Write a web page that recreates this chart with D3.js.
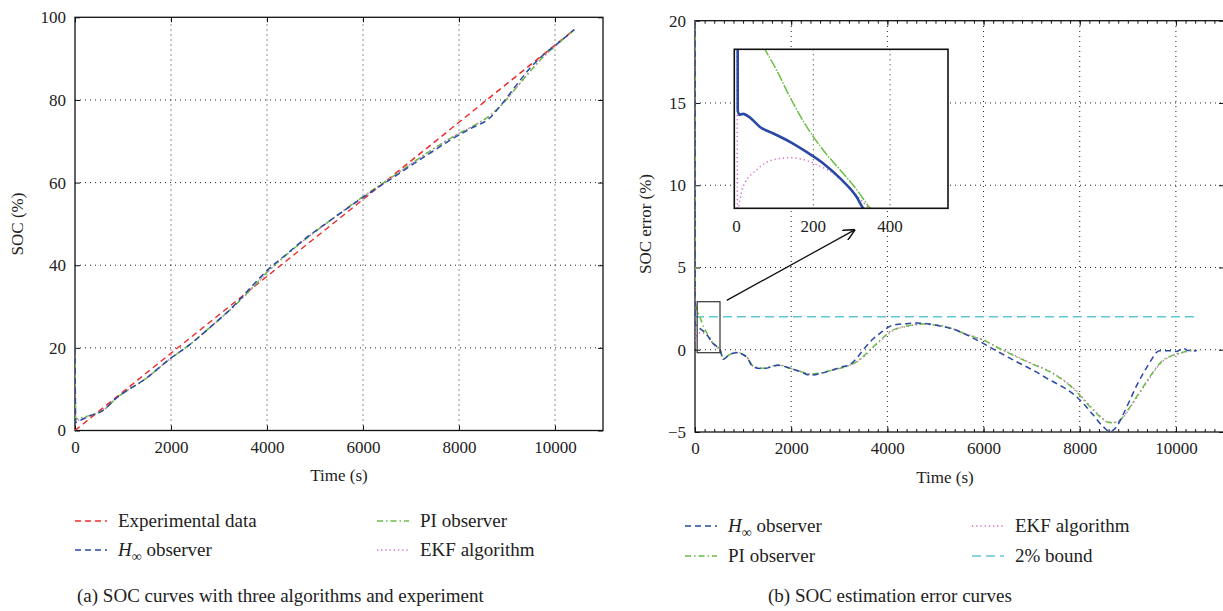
<!DOCTYPE html>
<html>
<head>
<meta charset="utf-8">
<script src="https://cdn.jsdelivr.net/npm/d3@7/dist/d3.min.js"></script>
<style>
body { margin: 0; background: #fff; }
</style>
</head>
<body>
<svg id="chart" width="1223" height="611"></svg>
<script>
// ---- data ----
var timeTicks = [0, 2000, 4000, 6000, 8000, 10000];
var socTicks = [0, 20, 40, 60, 80, 100];
var errTicks = [-5, 0, 5, 10, 15, 20];
var insetTicks = [0, 200, 400];

// (a) SOC (%) against time (s)
var socExperimental = [[0, 0], [2000, 18.7], [4000, 37.3], [6000, 55.9], [8000, 74.6], [10400, 97]];
var socHinf = [[0, 20], [15, 1.9], [100, 2.4], [300, 3.5], [589, 4.9], [866, 7.9], [1075, 9.6], [1420, 12.1],
  [1975, 17.3], [2391, 20.8], [2807, 24.9], [3361, 30.8], [3700, 35.1], [4054, 39.3], [4400, 42.6], [4747, 46.0],
  [5301, 50.7], [6000, 56.4], [6688, 61.7], [7380, 67.0], [7935, 71.1], [8281, 73.3], [8628, 75.5], [8905, 79.2],
  [9182, 83.4], [9459, 87.4], [9736, 90.7], [10014, 93.3], [10400, 97]];
var socPI = [[0, 20], [15, 2.8], [100, 3.0], [300, 3.6], [589, 4.9], [866, 7.9], [1075, 9.6], [1420, 12.1],
  [1975, 17.3], [2391, 20.8], [2807, 24.9], [3361, 30.6], [3707, 34.7], [4054, 38.9], [4400, 42.5], [4747, 45.8],
  [5301, 50.7], [6000, 56.6], [6688, 62.0], [7380, 67.5], [7935, 71.5], [8281, 73.6], [8628, 76.1], [8905, 79.0],
  [9182, 82.8], [9459, 86.6], [9736, 90.2], [10014, 93.1], [10400, 97]];
var socEKF = [[0, 20], [15, 2.3], [100, 2.7], [300, 3.5], [589, 4.9], [866, 7.9], [1075, 9.6], [1420, 12.1],
  [1975, 17.3], [2391, 20.8], [2807, 24.9], [3361, 30.6], [3707, 34.6], [4054, 38.8], [4400, 42.4], [4747, 45.8],
  [5301, 50.7], [6000, 56.6], [6688, 62.0], [7380, 67.5], [7935, 71.5], [8281, 73.6], [8628, 76.1], [8905, 79.0],
  [9182, 82.8], [9459, 86.6], [9736, 90.2], [10014, 93.1], [10400, 97]];

// (b) SOC error (%) against time (s)
var errHinf = [[0, 20], [3, 1.55], [7, 1.50], [17, 1.51], [35, 1.47], [61, 1.37], [96, 1.30], [139, 1.21], [183, 1.10],
  [226, 0.98], [270, 0.82], [313, 0.62], [330, 0.5], [400, 0.33], [470, 0.15], [520, 0.0], [589, -0.58], [700, -0.33],
  [866, -0.18], [1000, -0.3], [1075, -0.45], [1213, -1.05], [1420, -1.15], [1732, -0.95], [1975, -1.13], [2200, -1.35],
  [2391, -1.54], [2600, -1.45], [2807, -1.28], [3050, -1.05], [3222, -0.9], [3361, -0.52], [3499, 0.0], [3700, 0.65],
  [3846, 1.0], [4123, 1.5], [4400, 1.58], [4609, 1.62], [4886, 1.56], [5162, 1.40], [5440, 1.18], [5720, 0.8],
  [5994, 0.39], [6300, -0.12], [6688, -0.73], [7000, -1.2], [7380, -1.84], [7700, -2.35], [7935, -2.86], [8100, -3.35],
  [8281, -3.97], [8490, -4.68], [8628, -4.98], [8767, -4.68], [8900, -3.95], [9044, -3.06], [9180, -2.2], [9320, -1.44],
  [9440, -0.85], [9528, -0.43], [9600, -0.15], [9667, -0.06], [9850, -0.06], [10014, -0.1], [10152, 0.08],
  [10250, -0.04], [10430, -0.06]];
var errPI = [[0, 20], [5, 2.9], [30, 2.55], [74, 2.2], [104, 1.98], [139, 1.69], [183, 1.37], [226, 1.12], [270, 0.91],
  [313, 0.70], [348, 0.5], [420, 0.25], [520, 0.0], [589, -0.58], [700, -0.33], [866, -0.15], [1000, -0.28],
  [1075, -0.43], [1213, -1.0], [1420, -1.12], [1732, -0.92], [1975, -1.12], [2200, -1.32], [2391, -1.47], [2600, -1.42],
  [2807, -1.27], [3050, -1.1], [3222, -0.93], [3361, -0.73], [3500, -0.4], [3707, 0.18], [3900, 0.7], [4054, 1.1],
  [4230, 1.32], [4400, 1.44], [4600, 1.53], [4747, 1.56], [4950, 1.52], [5162, 1.44], [5400, 1.22], [5578, 1.0],
  [5800, 0.78], [5994, 0.59], [6300, 0.12], [6688, -0.43], [7000, -0.85], [7380, -1.34], [7700, -1.95], [7935, -2.55],
  [8100, -3.1], [8281, -3.67], [8450, -4.15], [8559, -4.38], [8697, -4.44], [8800, -4.35], [8905, -4.07], [9040, -3.5],
  [9182, -2.86], [9320, -2.25], [9459, -1.64], [9600, -1.05], [9736, -0.63], [9880, -0.4], [10014, -0.26],
  [10150, -0.15], [10291, -0.06], [10430, -0.04]];
var errEKF = [[0, 20], [2, 0.45], [8, 0.58], [17, 0.73], [52, 0.91], [96, 1.02], [139, 1.04], [183, 1.01], [217, 0.95],
  [250, 0.88], [280, 0.78], [313, 0.64], [340, 0.52], [420, 0.22], [520, -0.02], [589, -0.6], [700, -0.35],
  [866, -0.17], [1000, -0.3], [1075, -0.44], [1213, -1.02], [1420, -1.12], [1732, -0.93], [1975, -1.12], [2200, -1.33],
  [2391, -1.48], [2600, -1.43], [2807, -1.28], [3050, -1.1], [3222, -0.94], [3361, -0.75], [3500, -0.44], [3707, 0.14],
  [3900, 0.66], [4054, 1.06], [4230, 1.3], [4400, 1.42], [4600, 1.52], [4747, 1.55], [4950, 1.52], [5162, 1.45],
  [5400, 1.24], [5578, 1.03], [5800, 0.8], [5994, 0.6], [6300, 0.14], [6688, -0.4], [7000, -0.83], [7380, -1.32],
  [7700, -1.92], [7935, -2.5], [8100, -3.05], [8281, -3.62], [8450, -4.1], [8559, -4.36], [8697, -4.42], [8800, -4.36],
  [8905, -4.1], [9040, -3.55], [9182, -2.92], [9320, -2.3], [9459, -1.7], [9600, -1.1], [9736, -0.68], [9880, -0.42],
  [10014, -0.27], [10150, -0.16], [10291, -0.07], [10430, -0.05]];
var errBound = [[0, 2], [10430, 2]];

var colors = { exp: "#ee2b2b", hinf: "#2a48a6", pi: "#6abf45", ekf: "#d25fc8", bound: "#62c6d6" };
var dashes = { exp: "6,4", hinf: "6,4", pi: "6,3,1.5,3", ekf: "1.2,3", bound: "9,5" };
var serif = "'Liberation Serif', 'DejaVu Serif', serif";

var svg = d3.select("#chart");
svg.append("rect").attr("width", 1223).attr("height", 611).attr("fill", "#fff");

function frame(id, x, y, xt, yt, minorX) {
  var g = svg.append("g");
  var x0 = x.range()[0], x1 = x.range()[1], y0 = y.range()[0], y1 = y.range()[1];
  svg.append("clipPath").attr("id", id).append("rect")
    .attr("x", x0).attr("y", y1).attr("width", x1 - x0).attr("height", y0 - y1);

  // dotted grid
  g.selectAll(".gx").data(xt.filter(function(d) { return d > x.domain()[0]; })).enter().append("line")
    .attr("x1", function(d) { return x(d); }).attr("x2", function(d) { return x(d); })
    .attr("y1", y0).attr("y2", y1)
    .attr("stroke", "#222").attr("stroke-width", 1).attr("stroke-dasharray", "1,4");
  g.selectAll(".gy").data(yt.filter(function(d) { return d > y.domain()[0] && d < y.domain()[1]; })).enter().append("line")
    .attr("x1", x0).attr("x2", x1)
    .attr("y1", function(d) { return y(d); }).attr("y2", function(d) { return y(d); })
    .attr("stroke", "#222").attr("stroke-width", 1).attr("stroke-dasharray", "1,4");

  if (minorX) {
    var minor = d3.range(x.domain()[0], x.domain()[1] + 1, 200);
    g.append("g").attr("transform", "translate(0," + y0 + ")")
      .call(d3.axisBottom(x).tickValues(minor).tickSize(-3).tickFormat(""))
      .call(function(s) { s.select(".domain").remove(); s.selectAll("line").attr("stroke", "#555"); });
    g.append("g").attr("transform", "translate(0," + y1 + ")")
      .call(d3.axisTop(x).tickValues(minor).tickSize(-3).tickFormat(""))
      .call(function(s) { s.select(".domain").remove(); s.selectAll("line").attr("stroke", "#555"); });
  }

  var ax = g.append("g").attr("transform", "translate(0," + y0 + ")")
    .call(d3.axisBottom(x).tickValues(xt).tickSize(-5).tickPadding(10).tickFormat(d3.format("d")));
  g.append("g").attr("transform", "translate(" + x0 + ",0)")
    .call(d3.axisLeft(y).tickValues(yt).tickSize(-5).tickPadding(9).tickFormat(function(d) { return d < 0 ? "\u2212" + (-d) : d; }));
  g.append("g").attr("transform", "translate(0," + y1 + ")")
    .call(d3.axisTop(x).tickValues(xt).tickSize(-5).tickFormat(""));
  g.append("g").attr("transform", "translate(" + x1 + ",0)")
    .call(d3.axisRight(y).tickValues(yt).tickSize(-5).tickFormat(""));
  g.selectAll(".domain").remove();
  g.selectAll(".tick line").attr("stroke", "#111");
  g.selectAll(".tick text").style("font-size", "17px");
  ax.selectAll("text").attr("dy", "0.71em");

  g.append("rect").attr("x", x0).attr("y", y1).attr("width", x1 - x0).attr("height", y0 - y1)
    .attr("fill", "none").attr("stroke", "#111").attr("stroke-width", 1.3);
  return g;
}

function series(clip, line, data, key, width) {
  svg.append("path").datum(data)
    .attr("clip-path", "url(#" + clip + ")")
    .attr("d", line)
    .attr("fill", "none")
    .attr("stroke", colors[key])
    .attr("stroke-width", width || 1.5)
    .attr("stroke-dasharray", dashes[key]);
}

// ---------- (a) SOC curves ----------
var xa = d3.scaleLinear().domain([0, 11000]).range([75, 603]);
var ya = d3.scaleLinear().domain([0, 100]).range([430.5, 17.3]);
frame("clipA", xa, ya, timeTicks, socTicks, false);
var lineA = d3.line().x(function(d) { return xa(d[0]); }).y(function(d) { return ya(d[1]); }).curve(d3.curveMonotoneX);
series("clipA", lineA, socExperimental, "exp");
series("clipA", lineA, socEKF, "ekf");
series("clipA", lineA, socPI, "pi");
series("clipA", lineA, socHinf, "hinf");

svg.append("text").attr("x", 339).attr("y", 481).attr("text-anchor", "middle").style("font-size", "17px").text("Time (s)");
svg.append("text").attr("transform", "translate(23,224) rotate(-90)").attr("text-anchor", "middle")
  .style("font-size", "17px").text("SOC (%)");

// ---------- (b) SOC error curves ----------
var xb = d3.scaleLinear().domain([0, 11000]).range([695, 1224]);
var yb = d3.scaleLinear().domain([-5, 20]).range([432, 20.7]);
frame("clipB", xb, yb, timeTicks, errTicks, true);
var lineB = d3.line().x(function(d) { return xb(d[0]); }).y(function(d) { return yb(d[1]); }).curve(d3.curveMonotoneX);
series("clipB", lineB, errBound, "bound");
series("clipB", lineB, errEKF, "ekf");
series("clipB", lineB, errPI, "pi");
series("clipB", lineB, errHinf, "hinf");

svg.append("text").attr("x", 945).attr("y", 483).attr("text-anchor", "middle").style("font-size", "17px").text("Time (s)");
svg.append("text").attr("transform", "translate(651,224) rotate(-90)").attr("text-anchor", "middle")
  .style("font-size", "17px").text("SOC error (%)");

// zoom box and arrow
svg.append("rect").attr("x", xb(45)).attr("y", yb(2.92)).attr("width", xb(520) - xb(45)).attr("height", yb(-0.18) - yb(2.92))
  .attr("fill", "none").attr("stroke", "#333").attr("stroke-width", 1.2);
svg.append("defs").append("marker").attr("id", "arrow").attr("viewBox", "0 0 10 10")
  .attr("refX", 10).attr("refY", 5).attr("markerWidth", 9).attr("markerHeight", 9).attr("orient", "auto")
  .append("path").attr("d", "M0,0 L10,5 L0,10").attr("fill", "none").attr("stroke", "#111").attr("stroke-width", 1.3);
svg.append("line").attr("x1", xb(660)).attr("y1", yb(3.0)).attr("x2", xb(3330)).attr("y2", yb(7.3))
  .attr("stroke", "#111").attr("stroke-width", 1.3).attr("marker-end", "url(#arrow)");

// inset
var xi = d3.scaleLinear().domain([-6, 551]).range([734.3, 948]);
var yi = d3.scaleLinear().domain([0.5, 2.2]).range([208.3, 49.3]);
var inset = svg.append("g");
inset.append("rect").attr("x", 734.3).attr("y", 49.3).attr("width", 948 - 734.3).attr("height", 208.3 - 49.3).attr("fill", "#fff");
svg.append("clipPath").attr("id", "clipI").append("rect").attr("x", 734.3).attr("y", 49.3).attr("width", 948 - 734.3).attr("height", 208.3 - 49.3);
inset.selectAll(".ig").data([200, 400]).enter().append("line")
  .attr("x1", function(d) { return xi(d); }).attr("x2", function(d) { return xi(d); })
  .attr("y1", 49.3).attr("y2", 208.3).attr("stroke", "#222").attr("stroke-dasharray", "1,4");
var lineI = d3.line().x(function(d) { return xi(d[0]); }).y(function(d) { return yi(d[1]); }).curve(d3.curveMonotoneX);
function insetSeries(data, key, width, dash) {
  inset.append("path").datum(data).attr("clip-path", "url(#clipI)").attr("d", lineI)
    .attr("fill", "none").attr("stroke", colors[key]).attr("stroke-width", width).attr("stroke-dasharray", dash);
}
insetSeries(errEKF, "ekf", 1.4, "1.2,3");
insetSeries(errPI, "pi", 1.5, "10,1.5,1.5,1.5");
insetSeries(errHinf, "hinf", 2.6, null);
inset.append("rect").attr("x", 734.3).attr("y", 49.3).attr("width", 948 - 734.3).attr("height", 208.3 - 49.3)
  .attr("fill", "none").attr("stroke", "#111").attr("stroke-width", 1.6);
inset.selectAll(".il").data(insetTicks).enter().append("text")
  .attr("x", function(d) { return xi(d); }).attr("y", 232).attr("text-anchor", "middle")
  .style("font-size", "17px").text(function(d) { return d; });

// ---------- legends ----------
function legendItem(x, y, key, label, hinf) {
  svg.append("line").attr("x1", x).attr("x2", x + 32).attr("y1", y).attr("y2", y)
    .attr("stroke", colors[key]).attr("stroke-width", 1.5).attr("stroke-dasharray", dashes[key]);
  var t = svg.append("text").attr("x", x + 43).attr("y", y + 6).style("font-size", "19px");
  if (hinf) {
    t.append("tspan").style("font-style", "italic").text("H");
    t.append("tspan").attr("dy", 5).style("font-size", "14px").text("\u221E");
    t.append("tspan").attr("dy", -5).text(" observer");
  } else {
    t.text(label);
  }
}
legendItem(75, 521, "exp", "Experimental data");
legendItem(75, 550, "hinf", "", true);
legendItem(377, 521, "pi", "PI observer");
legendItem(377, 550, "ekf", "EKF algorithm");

legendItem(685, 526, "hinf", "", true);
legendItem(685, 556, "pi", "PI observer");
legendItem(972, 526, "ekf", "EKF algorithm");
legendItem(972, 556, "bound", "2% bound");

svg.append("text").attr("x", 77).attr("y", 602).style("font-size", "19px").text("(a)  SOC curves with three algorithms and experiment");
svg.append("text").attr("x", 768).attr("y", 602).style("font-size", "19px").text("(b)  SOC estimation error curves");

// one serif face everywhere, also over the axis defaults
svg.selectAll("g").attr("font-family", null);
svg.selectAll("text").style("font-family", serif).attr("fill", "#222");
</script>
</body>
</html>
